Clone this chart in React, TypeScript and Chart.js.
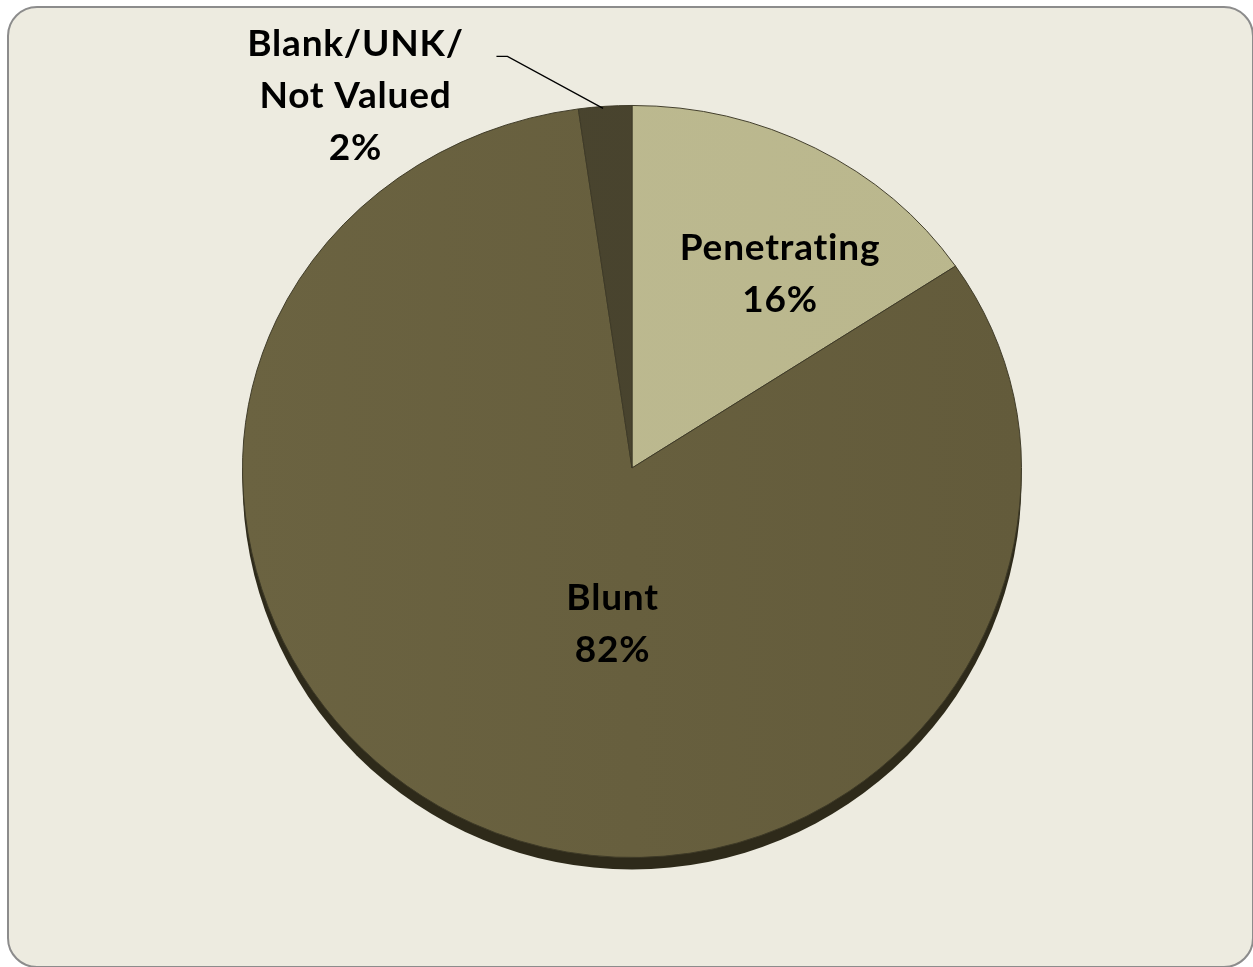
import React, { useEffect, useRef } from "react";
import { Chart, registerables } from "chart.js";

Chart.register(...registerables);

const categories = ["Penetrating", "Blunt", "Blank/UNK/Not Valued"];
const values = [15.6, 82.2, 2.2];
const labelLines = [["Penetrating", "16%"], ["Blunt", "82%"], ["Blank/UNK/", "Not Valued", "2%"]];
const sliceColors = ["#BDBA91", "#6B6341", "#4B4630"];
const sliceColorsDark = ["#BAB78D", "#635B3B", "#46412C"];

// label centre offsets, as fractions of the pie radius
const labelOffsets = [
  [0.38, -0.497],
  [-0.05, 0.40],
  [-0.71, -0.954],
];

const W = 1253;
const H = 967;
const TOP_SCALE = 363 / 390;
const BOTTOM_SCALE = 1;
const FONT = "bold 37px Lato";

export default function App() {
  const ref = useRef<HTMLCanvasElement | null>(null);

  useEffect(() => {
    const canvas = ref.current;
    if (!canvas) return;

    const applyHalf = (ctx: CanvasRenderingContext2D, x: number, y: number, r: number, top: boolean) => {
      ctx.beginPath();
      if (top) ctx.rect(x - r - 20, y - r - 20, 2 * r + 40, r + 20);
      else ctx.rect(x - r - 20, y, 2 * r + 40, r + 40);
      ctx.clip();
      ctx.translate(x, y);
      ctx.scale(1, top ? TOP_SCALE : BOTTOM_SCALE);
      ctx.translate(-x, -y);
    };

    const perspectivePlugin = {
      id: "perspective",
      beforeDatasetsDraw(chart: any) {
        const arc = chart.getDatasetMeta(0).data[0];
        if (!arc) return;
        const { x, y, outerRadius } = arc;
        const ctx = chart.ctx;
        // base / shadow (lower half only)
        ctx.save();
        ctx.beginPath();
        ctx.rect(0, y, W, H - y);
        ctx.clip();
        ctx.beginPath();
        ctx.ellipse(x, y + 12, outerRadius, outerRadius * BOTTOM_SCALE, 0, 0, Math.PI * 2);
        ctx.fillStyle = "#2E2A1A";
        ctx.fill();
        ctx.restore();
        ctx.save();
        applyHalf(ctx, x, y, outerRadius, true);
      },
      afterDatasetsDraw(chart: any) {
        const ctx = chart.ctx;
        ctx.restore();
        const meta = chart.getDatasetMeta(0);
        const arc = meta.data[0];
        if (!arc) return;
        const { x, y, outerRadius } = arc;
        ctx.save();
        applyHalf(ctx, x, y, outerRadius, false);
        meta.controller.draw();
        ctx.restore();

        ctx.save();
        ctx.fillStyle = "#000";
        ctx.font = FONT;
        (ctx as any).letterSpacing = "0.8px";
        ctx.textAlign = "center";
        ctx.textBaseline = "middle";
        const lh = 52;
        meta.data.forEach((_el: any, i: number) => {
          const cx = x + labelOffsets[i][0] * outerRadius;
          const cy = y + labelOffsets[i][1] * outerRadius;
          const lines = labelLines[i];
          const top = cy - ((lines.length - 1) * lh) / 2;
          lines.forEach((t, j) => ctx.fillText(t, cx, top + j * lh));
        });
        const small = meta.data[2];
        const mid = (small.startAngle + small.endAngle) / 2;
        const ex = x + Math.cos(mid) * outerRadius - 2;
        const ey = y + Math.sin(mid) * outerRadius * TOP_SCALE + 2;
        const lx = x + labelOffsets[2][0] * outerRadius;
        const ly = y + labelOffsets[2][1] * outerRadius - lh + 12;
        ctx.beginPath();
        ctx.strokeStyle = "#000";
        ctx.lineWidth = 1.3;
        ctx.moveTo(lx + 141, ly);
        ctx.lineTo(lx + 152, ly);
        ctx.lineTo(ex, ey);
        ctx.stroke();
        ctx.restore();
      },
    };

    const chart = new Chart(canvas, {
      type: "pie",
      data: {
        labels: categories,
        datasets: [
          {
            data: values,
            backgroundColor: (c: any) => {
              const i = c.dataIndex;
              const area = c.chart.chartArea;
              if (!area) return sliceColors[i];
              const g = c.chart.ctx.createLinearGradient(area.left, 0, area.right, 0);
              g.addColorStop(0, sliceColors[i]);
              g.addColorStop(1, sliceColorsDark[i]);
              return g;
            },
            borderColor: "#3E3A27",
            borderWidth: 1,
          },
        ],
      },
      options: {
        responsive: false,
        animation: false,
        layout: { padding: { left: 242, right: 231, top: 78, bottom: 109 } },
        plugins: {
          legend: { display: false },
          tooltip: { enabled: false },
        },
      },
      plugins: [perspectivePlugin],
    });
    return () => chart.destroy();
  }, []);

  return (
    <div style={{ position: "absolute", left: 0, top: 0, width: W, height: H, background: "#fff", overflow: "hidden" }}>
      <div
        style={{
          position: "absolute",
          left: 7,
          top: 6,
          width: 1243,
          height: 958,
          border: "2px solid #8C8C8C",
          borderRadius: 30,
          background: "#EDEBE0",
        }}
      />
      <canvas ref={ref} width={W} height={H} style={{ position: "absolute", left: 0, top: 0 }} />
    </div>
  );
}
